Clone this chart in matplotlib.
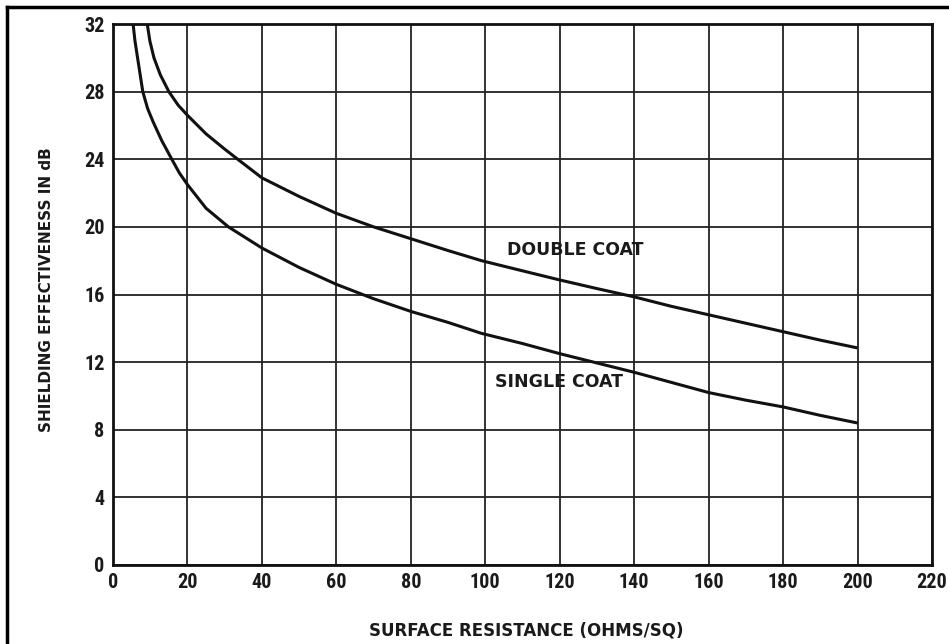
import matplotlib
matplotlib.use("Agg")
import matplotlib.pyplot as plt
from matplotlib.lines import Line2D
from matplotlib import font_manager

# Data
single_x = [5.4, 5.9, 6.6, 7.3, 8.0, 9.3, 10.8, 13.1, 15.8, 17.8, 20, 25, 31, 40, 50, 60, 70, 80, 90, 99, 110, 120, 130, 140, 150, 160, 170, 180, 190, 200]
single_y = [32.0, 31.0, 30.0, 29.0, 28.0, 27.0, 26.2, 25.1, 24.0, 23.2, 22.5, 21.1, 20.0, 18.75, 17.6, 16.6, 15.75, 15.0, 14.35, 13.7, 13.1, 12.5, 11.95, 11.4, 10.8, 10.2, 9.75, 9.35, 8.85, 8.4]
double_x = [9.2, 9.9, 11.0, 12.7, 15.0, 17.5, 20, 25, 30, 33.5, 40, 50, 60, 70, 80, 90, 99, 110, 120, 130, 140, 150, 160, 170, 180, 190, 200]
double_y = [32.0, 31.0, 30.0, 29.0, 28.0, 27.2, 26.6, 25.5, 24.6, 24.0, 22.9, 21.8, 20.8, 20.0, 19.3, 18.6, 18.0, 17.4, 16.86, 16.35, 15.86, 15.3, 14.8, 14.3, 13.8, 13.3, 12.84]
x_ticks = [0, 20, 40, 60, 80, 100, 120, 140, 160, 180, 200, 220]
y_ticks = [0, 4, 8, 12, 16, 20, 24, 28, 32]
double_label = "DOUBLE COAT"
single_label = "SINGLE COAT"
double_label_pos = (124.2, 18.63)
single_label_pos = (119.9, 10.8)
x_title = "SURFACE RESISTANCE (OHMS/SQ)"
y_title = "SHIELDING EFFECTIVENESS IN dB"

names = {f.name for f in font_manager.fontManager.ttflist}
tick_fam = 'DejaVu Sans'
for cand in ['Roboto Condensed', 'Liberation Sans Narrow', 'DejaVu Sans Condensed']:
    if cand in names:
        tick_fam = cand
        break
text_fam = ['DejaVu Sans']
plt.rcParams['font.family'] = ['DejaVu Sans']

fig = plt.figure(figsize=(9.49, 6.44), dpi=100)
ax = fig.add_axes([113/949, 1-565/644, (932-113)/949, (565-24)/644])

ax.set_xlim(0, 220)
ax.set_ylim(0, 32)
ax.set_xticks(x_ticks)
ax.set_yticks(y_ticks)
ax.grid(True, color='#222222', linewidth=1.3)
ax.set_axisbelow(True)
for s in ax.spines.values():
    s.set_linewidth(2.0)
    s.set_color('#111111')

ax.plot(single_x, single_y, color='#111111', linewidth=2.2, solid_capstyle='butt', solid_joinstyle='round')
ax.plot(double_x, double_y, color='#111111', linewidth=2.2, solid_capstyle='butt', solid_joinstyle='round')

ax.tick_params(length=0, pad=6)
for lbl in ax.get_xticklabels() + ax.get_yticklabels():
    lbl.set_family([tick_fam, 'DejaVu Sans'])
    lbl.set_fontsize(14.5)
    lbl.set_fontweight('bold')
    lbl.set_color('#1a1a1a')

ax.text(*double_label_pos, double_label, ha='center', va='center', fontsize=12.5,
        fontweight='bold', color='#1a1a1a', family=text_fam)
ax.text(*single_label_pos, single_label, ha='center', va='center', fontsize=12.5,
        fontweight='bold', color='#1a1a1a', family=text_fam)

fig.text(526/949, 1-630/644, x_title, ha='center', va='center', fontsize=12,
         fontweight='bold', color='#1a1a1a', family=text_fam)
fig.text(46.5/949, 1-290/644, y_title, ha='center', va='center', rotation=90, fontsize=11,
         fontweight='bold', color='#1a1a1a', family=text_fam)

# figure frame (top and left edges visible)
fig.add_artist(Line2D([7/949, 7/949], [0, 1-7/644], transform=fig.transFigure, color='black', linewidth=2.5))
fig.add_artist(Line2D([7/949, 1], [1-7/644, 1-7/644], transform=fig.transFigure, color='black', linewidth=2.5))

fig.savefig("out.png", dpi=100)
